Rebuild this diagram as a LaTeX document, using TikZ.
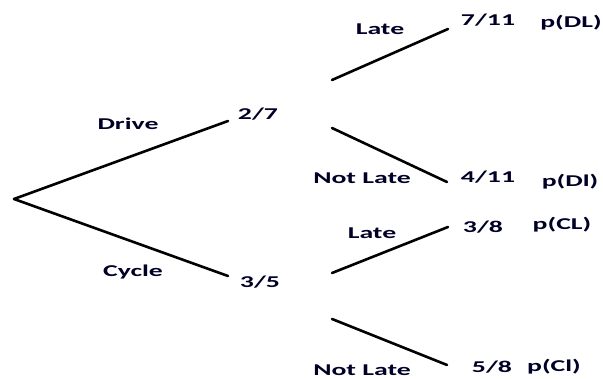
\documentclass[tikz,border=0pt]{standalone}
\usepackage{fontspec}
\setmainfont{Carlito}[FakeStretch=1.68]
\begin{document}
\begin{tikzpicture}[x=1pt,y=-1pt,
  branch/.style={line width=2.6pt, line cap=round},
  lbl/.style={font=\bfseries\fontsize{16.5}{18}\selectfont, inner sep=0pt, text=black!85!blue}]
\useasboundingbox (0,0) rectangle (603,379);
% points
\coordinate (root) at (14,199);
\coordinate (dr) at (228,121);
\coordinate (cy) at (228,276);
\coordinate (dls) at (332,80);
\coordinate (dle) at (448,29);
\coordinate (dns) at (332,128);
\coordinate (dne) at (447,182);
\coordinate (cls) at (332,273);
\coordinate (cle) at (448,227);
\coordinate (cns) at (332,319);
\coordinate (cne) at (447,365);
% branches
\draw[branch] (root) -- (dr);
\draw[branch] (root) -- (cy);
\draw[branch] (dls) -- (dle);
\draw[branch] (dns) -- (dne);
\draw[branch] (cls) -- (cle);
\draw[branch] (cns) -- (cne);
% labels
\node[lbl] (tdrive) at (128,124) {Drive};
\node[lbl] (tcycle) at (133,272) {Cycle};
\node[lbl] (t27) at (258,114) {2/7};
\node[lbl] (t35) at (260,282) {3/5};
\node[lbl] (tl1) at (380,29) {Late};
\node[lbl] (tn1) at (362,178) {Not Late};
\node[lbl] (tl2) at (372,233) {Late};
\node[lbl] (tn2) at (362,370) {Not Late};
\node[lbl] (t711) at (488,20) {7/11};
\node[lbl] (t411) at (488,177) {4/11};
\node[lbl] (t38) at (483,227) {3/8};
\node[lbl] (t58) at (492,367) {5/8};
\node[lbl] (pdl) at (571,23) {p(DL)};
\node[lbl] (pdi) at (570,182) {p(Dl)};
\node[lbl] (pcl) at (562,225) {p(CL)};
\node[lbl] (pci) at (554,367) {p(Cl)};
\end{tikzpicture}
\end{document}
